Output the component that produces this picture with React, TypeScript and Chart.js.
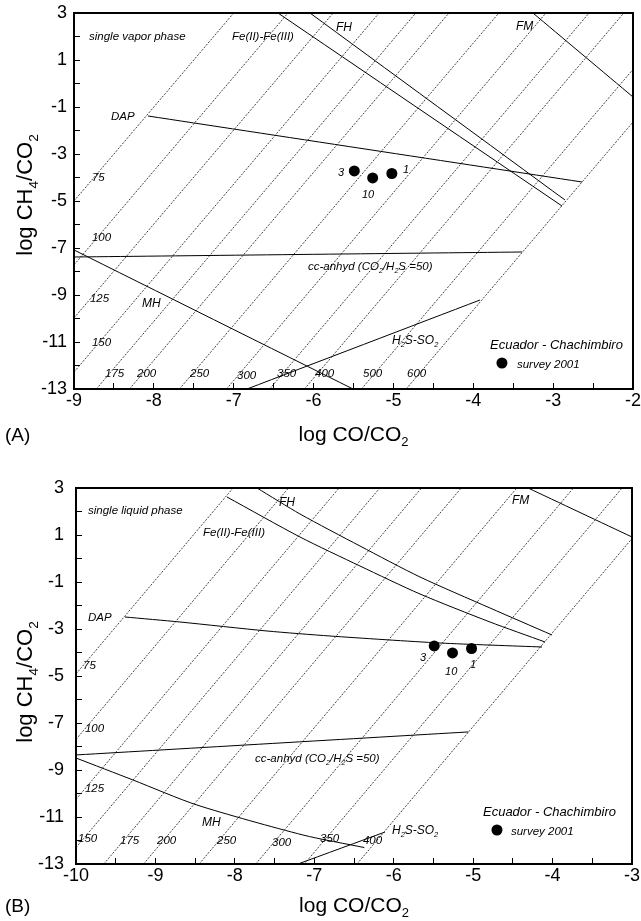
import React, { useEffect, useRef } from 'react';
import { Chart, registerables } from 'chart.js';
Chart.register(...registerables);

const FONT = "'Liberation Sans', Arial, Helvetica, sans-serif";

// ---- survey data (same samples in both panels) ----
const sampleIds = ['3', '10', '1'];
const sampleLogCO = [-5.49, -5.26, -5.02];
const sampleLogCH4 = [-3.72, -4.02, -3.83];

// ---- Panel A: vapour phase ----
const isoTempsA = ['75', '100', '125', '150', '175', '200', '250', '300', '350', '400', '500', '600'];
const isoA_x1 = [-9, -9, -9, -9, -8.72, -8.305, -7.68, -7.09, -6.55, -6.115, -5.4, -4.84];
const isoA_y1 = [-5, -7.72, -9.98, -12.28, -13, -13, -13, -13, -13, -13, -13, -13];
const isoA_x2 = [-7, -6.32, -5.755, -5.18, -4.72, -4.305, -3.68, -3.09, -2.55, -2.115, -2, -2];
const isoA_y2 = [3, 3, 3, 3, 3, 3, 3, 3, 3, 3, 0.6, -1.64];
const isoLabA_x = [-8.775, -8.775, -8.8, -8.775, -8.612, -8.211, -7.547, -6.959, -6.458, -5.982, -5.381, -4.83];
const isoLabA_y = [-3.979, -6.532, -9.128, -11.0, -12.32, -12.32, -12.32, -12.4, -12.32, -12.32, -12.32, -12.32];

const dapA = [[-8.073, -1.383], [-2.639, -4.191]];
const feA = [[-6.446, 3], [-2.889, -5.213]];
const fhA = [[-6.045, 3], [-2.852, -4.957]];
const fmA = [[-3.253, 3], [-2, -0.574]];
const ccA = [[-9, -7.383], [-3.39, -7.17]];
const mhA = [[-9, -7.085], [-5.506, -13]];
const hsA = [[-6.834, -13], [-3.916, -9.213]];

// ---- Panel B: liquid phase ----
const isoTempsB = ['75', '100', '125', '150', '175', '200', '250', '300', '350', '400'];
const isoB_x1 = [-10, -10, -10, -10, -9.65, -9.15, -8.45, -7.7375, -7.125, -6.4625];
const isoB_y1 = [-4.91, -7.7, -10.25, -12.3, -13, -13, -13, -13, -13, -13];
const isoB_x2 = [-8.0225, -7.325, -6.6875, -6.175, -5.65, -5.15, -4.45, -3.7375, -3.125, -3];
const isoB_y2 = [3, 3, 3, 3, 3, 3, 3, 3, 3, 0.85];
const isoLabB_x = [-9.912, -9.887, -9.887, -9.975, -9.446, -8.98, -8.225, -7.532, -6.928, -6.387];
const isoLabB_y = [-4.532, -7.213, -9.766, -11.894, -11.979, -11.979, -11.979, -12.064, -11.894, -11.979];

const dapB = [[-9.383, -2.489], [-8.691, -2.702], [-7.595, -3.085], [-6.802, -3.298], [-5.417, -3.596], [-4.133, -3.766]];
const fhB = [[-7.721, 3.0], [-7.18, 1.894], [-6.425, 0.532], [-5.669, -0.787], [-4.788, -2.106], [-4.007, -3.255]];
const feB = [[-8.099, 2.617], [-7.18, 0.915], [-6.425, -0.319], [-5.669, -1.511], [-4.788, -2.702], [-4.095, -3.553]];
const fmB = [[-4.309, 3], [-3, 0.915]];
const ccB = [[-10, -8.36], [-5.06, -7.38]];
const mhB = [[-10, -8.489], [-9.282, -9.426], [-8.477, -10.49], [-7.142, -11.766], [-6.37, -12.3]];
const hsB = [[-7.205, -13], [-6.11, -11.64]];

const yTicks = { min: -13, max: 3 };

type Seg = [string, boolean?];
type Note = { segs: Seg[]; x: number; y: number; size: number };

const ccSegs: Seg[] = [['cc-anhyd (CO'], ['2', true], ['/H'], ['2', true], ['S =50)']];
const hsSegs: Seg[] = [['H'], ['2', true], ['S-SO'], ['2', true]];

function drawRich(ctx: CanvasRenderingContext2D, segs: Seg[], x: number, y: number, size: number, italic: boolean, align: 'left' | 'center' = 'left') {
  const st = italic ? 'italic ' : '';
  const sub = size * 0.62;
  ctx.textAlign = 'left';
  ctx.textBaseline = 'alphabetic';
  let w = 0;
  for (const [t, s] of segs) {
    ctx.font = `${st}${s ? sub : size}px ${FONT}`;
    w += ctx.measureText(t).width;
  }
  let cx = align === 'center' ? x - w / 2 : x;
  for (const [t, s] of segs) {
    ctx.font = `${st}${s ? sub : size}px ${FONT}`;
    ctx.fillText(t, cx, s ? y + size * 0.25 : y);
    cx += ctx.measureText(t).width;
  }
}

type PanelCfg = {
  xmin: number; xmax: number;
  canvasH: number; areaTop: number; areaBottom: number; areaLeft: number; areaRight: number;
  iso: { x1: number[]; y1: number[]; x2: number[]; y2: number[]; temps: string[]; lx: number[]; ly: number[] };
  solids: number[][][];
  notes: Note[];
  ptLabels: number[][];
  legend: { title: number[]; marker: number[]; text: number[] };
  panelLabel: string; titleBase: number; yTitleCenter: number; ytickPad: number;
};

const cfgA: PanelCfg = {
  xmin: -9, xmax: -2, canvasH: 452, areaTop: 13, areaBottom: 389, areaLeft: 74, areaRight: 633,
  iso: { x1: isoA_x1, y1: isoA_y1, x2: isoA_x2, y2: isoA_y2, temps: isoTempsA, lx: isoLabA_x, ly: isoLabA_y },
  solids: [dapA, feA, fhA, fmA, ccA, mhA, hsA],
  notes: [
    { segs: [['single vapor phase']], x: -8.812, y: 2.021, size: 11.5 },
    { segs: [['Fe(II)-Fe(III)']], x: -7.022, y: 2.02, size: 11.5 },
    { segs: [['FH']], x: -5.719, y: 2.404, size: 12 },
    { segs: [['FM']], x: -3.465, y: 2.447, size: 12 },
    { segs: [['DAP']], x: -8.537, y: -1.383, size: 11.5 },
    { segs: [['MH']], x: -8.149, y: -9.34, size: 12 },
    { segs: ccSegs, x: -6.07, y: -7.766, size: 11.5 },
    { segs: hsSegs, x: -5.018, y: -10.915, size: 12 },
  ],
  ptLabels: [[-5.694, -3.766], [-5.394, -4.702], [-4.88, -3.638]],
  legend: { title: [-3.791, -11.085], marker: [-3.641, -11.894], text: [-3.453, -11.936] },
  panelLabel: '(A)', titleBase: 441, yTitleCenter: 195, ytickPad: 13,
};

const cfgB: PanelCfg = {
  xmin: -10, xmax: -3, canvasH: 469, areaTop: 36, areaBottom: 412, areaLeft: 76, areaRight: 632,
  iso: { x1: isoB_x1, y1: isoB_y1, x2: isoB_x2, y2: isoB_y2, temps: isoTempsB, lx: isoLabB_x, ly: isoLabB_y },
  solids: [dapB, feB, fhB, fmB, ccB, mhB, hsB],
  notes: [
    { segs: [['single liquid phase']], x: -9.849, y: 2.064, size: 11.5 },
    { segs: [['Fe(II)-Fe(III)']], x: -8.401, y: 1.128, size: 11.5 },
    { segs: [['FH']], x: -7.444, y: 2.404, size: 12 },
    { segs: [['FM']], x: -4.511, y: 2.489, size: 12 },
    { segs: [['DAP']], x: -9.849, y: -2.489, size: 11.5 },
    { segs: [['MH']], x: -8.414, y: -11.213, size: 12 },
    { segs: ccSegs, x: -7.746, y: -8.489, size: 11.5 },
    { segs: hsSegs, x: -6.022, y: -11.553, size: 12 },
  ],
  ptLabels: [[-5.669, -4.191], [-5.354, -4.787], [-5.04, -4.489]],
  legend: { title: [-4.876, -10.745], marker: [-4.7, -11.553], text: [-4.524, -11.596] },
  panelLabel: '(B)', titleBase: 460, yTitleCenter: 230, ytickPad: 18,
};

function Panel({ cfg, top }: { cfg: PanelCfg; top: number }) {
  const ref = useRef<HTMLCanvasElement>(null);
  useEffect(() => {
    const toPts = (arr: number[][]) => arr.map(([x, y]) => ({ x, y }));
    const datasets: any[] = [];
    datasets.push({
      data: sampleLogCO.map((x, i) => ({ x, y: sampleLogCH4[i] })),
      showLine: false, pointRadius: 5.5, pointBackgroundColor: '#000', pointBorderColor: '#000', pointBorderWidth: 0,
    });
    cfg.solids.forEach((s) => datasets.push({
      data: toPts(s), showLine: true, pointRadius: 0, borderColor: '#000', borderWidth: 1, tension: 0.25, fill: false,
    }));
    cfg.iso.temps.forEach((_, i) => datasets.push({
      data: [{ x: cfg.iso.x1[i], y: cfg.iso.y1[i] }, { x: cfg.iso.x2[i], y: cfg.iso.y2[i] }],
      showLine: true, pointRadius: 0, borderColor: '#111', borderWidth: 0.8, borderDash: [2, 1.4], fill: false,
    }));

    const overlay = {
      id: 'overlay',
      afterDatasetsDraw(chart: any) {
        const ctx: CanvasRenderingContext2D = chart.ctx;
        const xs = chart.scales.x, ys = chart.scales.y;
        const px = (v: number) => xs.getPixelForValue(v);
        const py = (v: number) => ys.getPixelForValue(v);
        const a = chart.chartArea;
        ctx.save();
        ctx.fillStyle = '#000';
        cfg.iso.temps.forEach((t, i) => {
          drawRich(ctx, [[t]], px(cfg.iso.lx[i]), py(cfg.iso.ly[i]) + 11.5 * 0.36, 11.5, true);
        });
        cfg.notes.forEach((n) => drawRich(ctx, n.segs, px(n.x), py(n.y) + n.size * 0.36, n.size, true));
        sampleIds.forEach((id, i) => {
          const [x, y] = cfg.ptLabels[i];
          drawRich(ctx, [[id]], px(x), py(y) + 11 * 0.36, 11, true);
        });
        const L = cfg.legend;
        drawRich(ctx, [['Ecuador - Chachimbiro']], px(L.title[0]), py(L.title[1]) + 13 * 0.36, 13, true);
        ctx.beginPath();
        ctx.arc(px(L.marker[0]), py(L.marker[1]), 5.5, 0, Math.PI * 2);
        ctx.fill();
        drawRich(ctx, [['survey 2001']], px(L.text[0]), py(L.text[1]) + 11.5 * 0.36, 11.5, true);
        ctx.strokeStyle = '#000';
        ctx.lineWidth = 2;
        ctx.strokeRect(a.left, a.top, a.right - a.left, a.bottom - a.top);
        drawRich(ctx, [['log CO/CO'], ['2', true]], (a.left + a.right) / 2, cfg.titleBase, 21, false, 'center');
        ctx.save();
        ctx.translate(32, cfg.yTitleCenter);
        ctx.rotate(-Math.PI / 2);
        drawRich(ctx, [['log CH'], ['4', true], ['/CO'], ['2', true]], 0, 0, 22, false, 'center');
        ctx.restore();
        drawRich(ctx, [[cfg.panelLabel]], 5, cfg.titleBase, 19, false);
        ctx.restore();
      },
    };

    const chart = new Chart(ref.current as HTMLCanvasElement, {
      type: 'scatter',
      data: { datasets },
      options: {
        responsive: false,
        animation: false,
        events: [],
        layout: { padding: { left: 0, top: cfg.areaTop, right: 641 - cfg.areaRight, bottom: 0 } },
        plugins: { legend: { display: false }, tooltip: { enabled: false } },
        scales: {
          x: {
            type: 'linear', position: 'bottom', min: cfg.xmin, max: cfg.xmax,
            afterFit: (s: any) => { s.height = cfg.canvasH - cfg.areaBottom; s.paddingLeft = 0; s.paddingRight = 0; },
            ticks: {
              stepSize: 0.5, autoSkip: false, maxRotation: 0, minRotation: 0, padding: 7, color: '#000',
              font: { size: 18, family: FONT },
              callback: (v: any) => (Math.abs(v - Math.round(v)) < 1e-6 ? String(Math.round(v)) : ''),
            },
            grid: { drawOnChartArea: false, drawTicks: true, tickLength: -6, color: '#000', lineWidth: 1 },
            border: { display: true, color: '#000', width: 2 },
          },
          y: {
            type: 'linear', position: 'left', min: yTicks.min, max: yTicks.max,
            afterFit: (s: any) => { s.width = cfg.areaLeft; s.paddingTop = 0; s.paddingBottom = 0; },
            ticks: {
              stepSize: 1, autoSkip: false, padding: cfg.ytickPad, color: '#000',
              font: { size: 18, family: FONT },
              callback: (v: any) => { const r = Math.round(v); return Math.abs(r) % 2 === 1 ? String(r) : ''; },
            },
            grid: { drawOnChartArea: false, drawTicks: true, tickLength: -6, color: '#000', lineWidth: 1 },
            border: { display: true, color: '#000', width: 2 },
          },
        },
      } as any,
      plugins: [overlay],
    });
    return () => chart.destroy();
  }, []);
  return (
    <canvas
      ref={ref}
      width={641}
      height={cfg.canvasH}
      style={{ position: 'absolute', left: 0, top, width: 641, height: cfg.canvasH, display: 'block' }}
    />
  );
}

export default function App() {
  return (
    <div style={{ position: 'absolute', left: 0, top: 0, width: 641, height: 921, background: '#fff' }}>
      <Panel cfg={cfgA} top={0} />
      <Panel cfg={cfgB} top={452} />
    </div>
  );
}
